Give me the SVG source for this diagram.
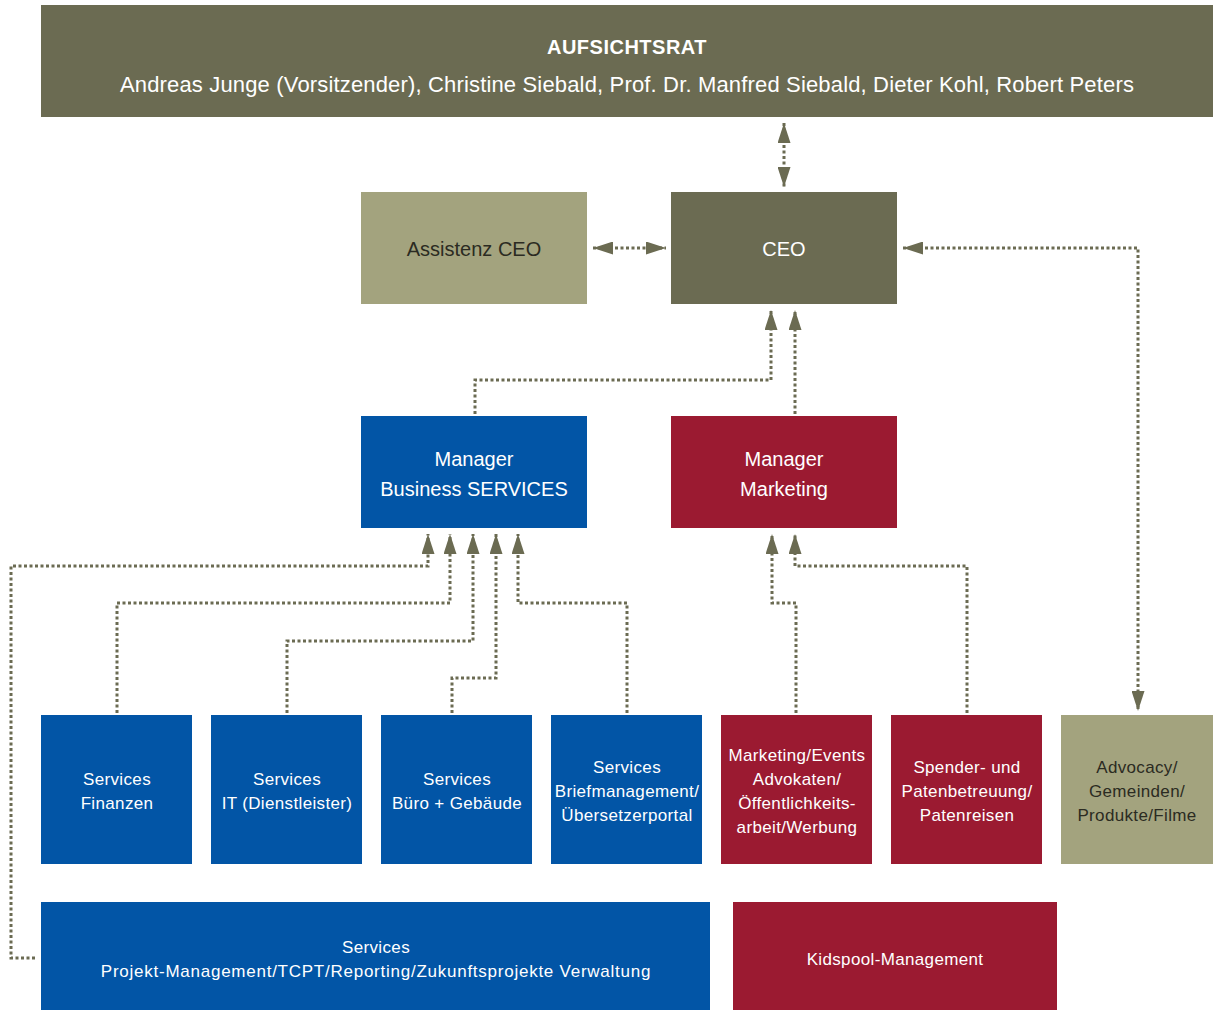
<svg xmlns="http://www.w3.org/2000/svg" width="1219" height="1011" viewBox="0 0 1219 1011">
<style>
.dark{fill:#6b6b52}
.light{fill:#a3a37e}
.blue{fill:#0255a6}
.red{fill:#9b1a31}
text{font-family:"Liberation Sans",Arial,sans-serif;text-anchor:middle;fill:#ffffff}
.t20{font-size:20px}
.t22{font-size:22px;letter-spacing:0.16px}
.t17{font-size:17px;letter-spacing:0.35px}
.wide{letter-spacing:0.75px}
.dk{fill:#2b2b22}
.b{font-weight:bold;letter-spacing:0.5px}
.con{fill:none;stroke:#6b6b52;stroke-width:3;stroke-dasharray:3 2.5}
</style>
<defs>
<marker id="ah" viewBox="0 0 20 13" markerWidth="20" markerHeight="13" markerUnits="userSpaceOnUse" refX="20" refY="6.5" orient="auto-start-reverse">
<path d="M0,0 L20,6.5 L0,13 Z" fill="#6b6b52"/>
</marker>
</defs>
<rect width="1219" height="1011" fill="#ffffff"/>
<g id="connectors">
<path class="con" d="M784,123 V187" marker-start="url(#ah)" marker-end="url(#ah)"/>
<path class="con" d="M593,248 H666" marker-start="url(#ah)" marker-end="url(#ah)"/>
<path class="con" d="M903,248 H1138 V711" marker-start="url(#ah)" marker-end="url(#ah)"/>
<path class="con" d="M475,414 V380 H771 V310" marker-end="url(#ah)"/>
<path class="con" d="M795,414 V310" marker-end="url(#ah)"/>
<path class="con" d="M35,958 H11 V566 H428 V534" marker-end="url(#ah)"/>
<path class="con" d="M117,713 V603 H450 V534" marker-end="url(#ah)"/>
<path class="con" d="M287,713 V641 H473 V534" marker-end="url(#ah)"/>
<path class="con" d="M452,713 V678 H496 V534" marker-end="url(#ah)"/>
<path class="con" d="M627,713 V603 H518 V534" marker-end="url(#ah)"/>
<path class="con" d="M796,713 V603 H772 V534" marker-end="url(#ah)"/>
<path class="con" d="M967,713 V566 H795 V534" marker-end="url(#ah)"/>
</g>
<g id="aufsichtsrat">
<rect class="dark" x="41" y="5" width="1172" height="112"/>
<text class="t20 b" x="627" y="54">AUFSICHTSRAT</text>
<text class="t22" x="627" y="92">Andreas Junge (Vorsitzender), Christine Siebald, Prof. Dr. Manfred Siebald, Dieter Kohl, Robert Peters</text>
</g>
<g id="assistenz">
<rect class="light" x="361" y="192" width="226" height="112"/>
<text class="t20 dk" x="474" y="256">Assistenz CEO</text>
</g>
<g id="ceo">
<rect class="dark" x="671" y="192" width="226" height="112"/>
<text class="t20" x="784" y="256">CEO</text>
</g>
<g id="manager-bs">
<rect class="blue" x="361" y="416" width="226" height="112"/>
<text class="t20" x="474" y="466">Manager</text>
<text class="t20" x="474" y="496">Business SERVICES</text>
</g>
<g id="manager-marketing">
<rect class="red" x="671" y="416" width="226" height="112"/>
<text class="t20" x="784" y="466">Manager</text>
<text class="t20" x="784" y="496">Marketing</text>
</g>
<g id="finanzen">
<rect class="blue" x="41" y="715" width="151" height="149"/>
<text class="t17" x="117" y="785">Services</text>
<text class="t17" x="117" y="809">Finanzen</text>
</g>
<g id="it">
<rect class="blue" x="211" y="715" width="151" height="149"/>
<text class="t17" x="287" y="785">Services</text>
<text class="t17" x="287" y="809">IT (Dienstleister)</text>
</g>
<g id="buero">
<rect class="blue" x="381" y="715" width="151" height="149"/>
<text class="t17" x="457" y="785">Services</text>
<text class="t17" x="457" y="809">Büro + Gebäude</text>
</g>
<g id="brief">
<rect class="blue" x="551" y="715" width="151" height="149"/>
<text class="t17" x="627" y="773">Services</text>
<text class="t17" x="627" y="797">Briefmanagement/</text>
<text class="t17" x="627" y="821">Übersetzerportal</text>
</g>
<g id="marketing-events">
<rect class="red" x="721" y="715" width="151" height="149"/>
<text class="t17" x="797" y="761">Marketing/Events</text>
<text class="t17" x="797" y="785">Advokaten/</text>
<text class="t17" x="797" y="809">Öffentlichkeits-</text>
<text class="t17" x="797" y="833">arbeit/Werbung</text>
</g>
<g id="spender">
<rect class="red" x="891" y="715" width="151" height="149"/>
<text class="t17" x="967" y="773">Spender- und</text>
<text class="t17" x="967" y="797">Patenbetreuung/</text>
<text class="t17" x="967" y="821">Patenreisen</text>
</g>
<g id="advocacy">
<rect class="light" x="1061" y="715" width="152" height="149"/>
<text class="t17 dk" x="1137" y="773">Advocacy/</text>
<text class="t17 dk" x="1137" y="797">Gemeinden/</text>
<text class="t17 dk" x="1137" y="821">Produkte/Filme</text>
</g>
<g id="projekt">
<rect class="blue" x="41" y="902" width="669" height="108"/>
<text class="t17" x="376" y="953">Services</text>
<text class="t17 wide" x="376" y="977">Projekt-Management/TCPT/Reporting/Zukunftsprojekte Verwaltung</text>
</g>
<g id="kidspool">
<rect class="red" x="733" y="902" width="324" height="108"/>
<text class="t17" x="895" y="965">Kidspool-Management</text>
</g>
</svg>
